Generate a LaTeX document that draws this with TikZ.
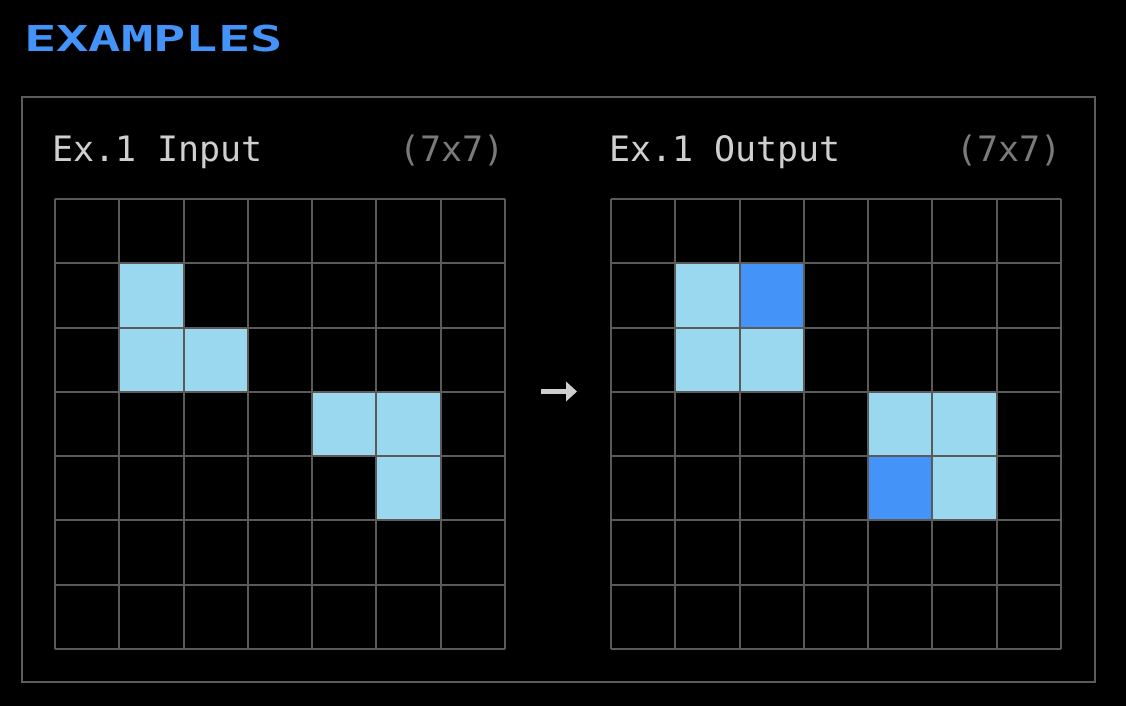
\documentclass[tikz,border=0pt]{standalone}
\usepackage{fontspec}
\setmonofont{DejaVu Sans Mono}
\definecolor{bg}{HTML}{000000}
\definecolor{gridc}{HTML}{5A5A5A}
\definecolor{framec}{HTML}{5C5C5C}
\definecolor{lblue}{HTML}{9AD8F0}
\definecolor{dblue}{HTML}{4393F8}
\definecolor{labc}{HTML}{CFCFCF}
\definecolor{dimc}{HTML}{7A7A7A}
\begin{document}
\begin{tikzpicture}[x=1pt,y=-1pt,
  lab/.style={font=\ttfamily\fontsize{35}{35}\selectfont, text=labc, inner sep=0pt, anchor=base west},
  dim/.style={font=\ttfamily\fontsize{35}{35}\selectfont, text=dimc, inner sep=0pt, anchor=base east},
  gridline/.style={draw=gridc, line width=2pt},
  lcell/.style={fill=lblue},
  dcell/.style={fill=dblue}]
\fill[bg] (0,0) rectangle (1126,706);
\useasboundingbox (0,0) rectangle (1126,706);
% title
\node[inner sep=0pt, anchor=base west, text=dblue] (title) at (24,52)
  {\scalebox{1.58}[1.05]{\ttfamily\bfseries\fontsize{34}{34}\selectfont EXAMPLES}};
% frame
\draw[framec, line width=2pt] (22,97) rectangle (1095,682);
% labels
\node[lab] (inlab) at (52,161) {Ex.1 Input};
\node[dim] (indim) at (505,161) {(7x7)};
\node[lab] (outlab) at (609,161) {Ex.1 Output};
\node[dim] (outdim) at (1062,161) {(7x7)};
% cells
\def\cs{64.2857}
\newcommand{\cell}[4]{\fill[#4] ({#1+#3*\cs},{199+#2*\cs}) rectangle ++(\cs,\cs);}
% input
\cell{55}{1}{1}{lcell}
\cell{55}{2}{1}{lcell}
\cell{55}{2}{2}{lcell}
\cell{55}{3}{4}{lcell}
\cell{55}{3}{5}{lcell}
\cell{55}{4}{5}{lcell}
% output
\cell{611}{1}{1}{lcell}
\cell{611}{1}{2}{dcell}
\cell{611}{2}{1}{lcell}
\cell{611}{2}{2}{lcell}
\cell{611}{3}{4}{lcell}
\cell{611}{3}{5}{lcell}
\cell{611}{4}{4}{dcell}
\cell{611}{4}{5}{lcell}
% grids
\foreach \gx in {55,611}{
  \foreach \i in {0,...,7}{
    \draw[gridline] ({\gx+\i*\cs},199) -- ({\gx+\i*\cs},649);
    \draw[gridline] (\gx,{199+\i*\cs}) -- ({\gx+450},{199+\i*\cs});
  }
}
% arrow
\coordinate (arrowtail) at (541,391.5);
\coordinate (arrowhead) at (567,391.5);
\draw[labc, line width=4.5pt] (arrowtail) -- (arrowhead);
\fill[labc] (566,381.5) -- (577,391.5) -- (566,401.5) -- cycle;
\end{tikzpicture}
\end{document}
